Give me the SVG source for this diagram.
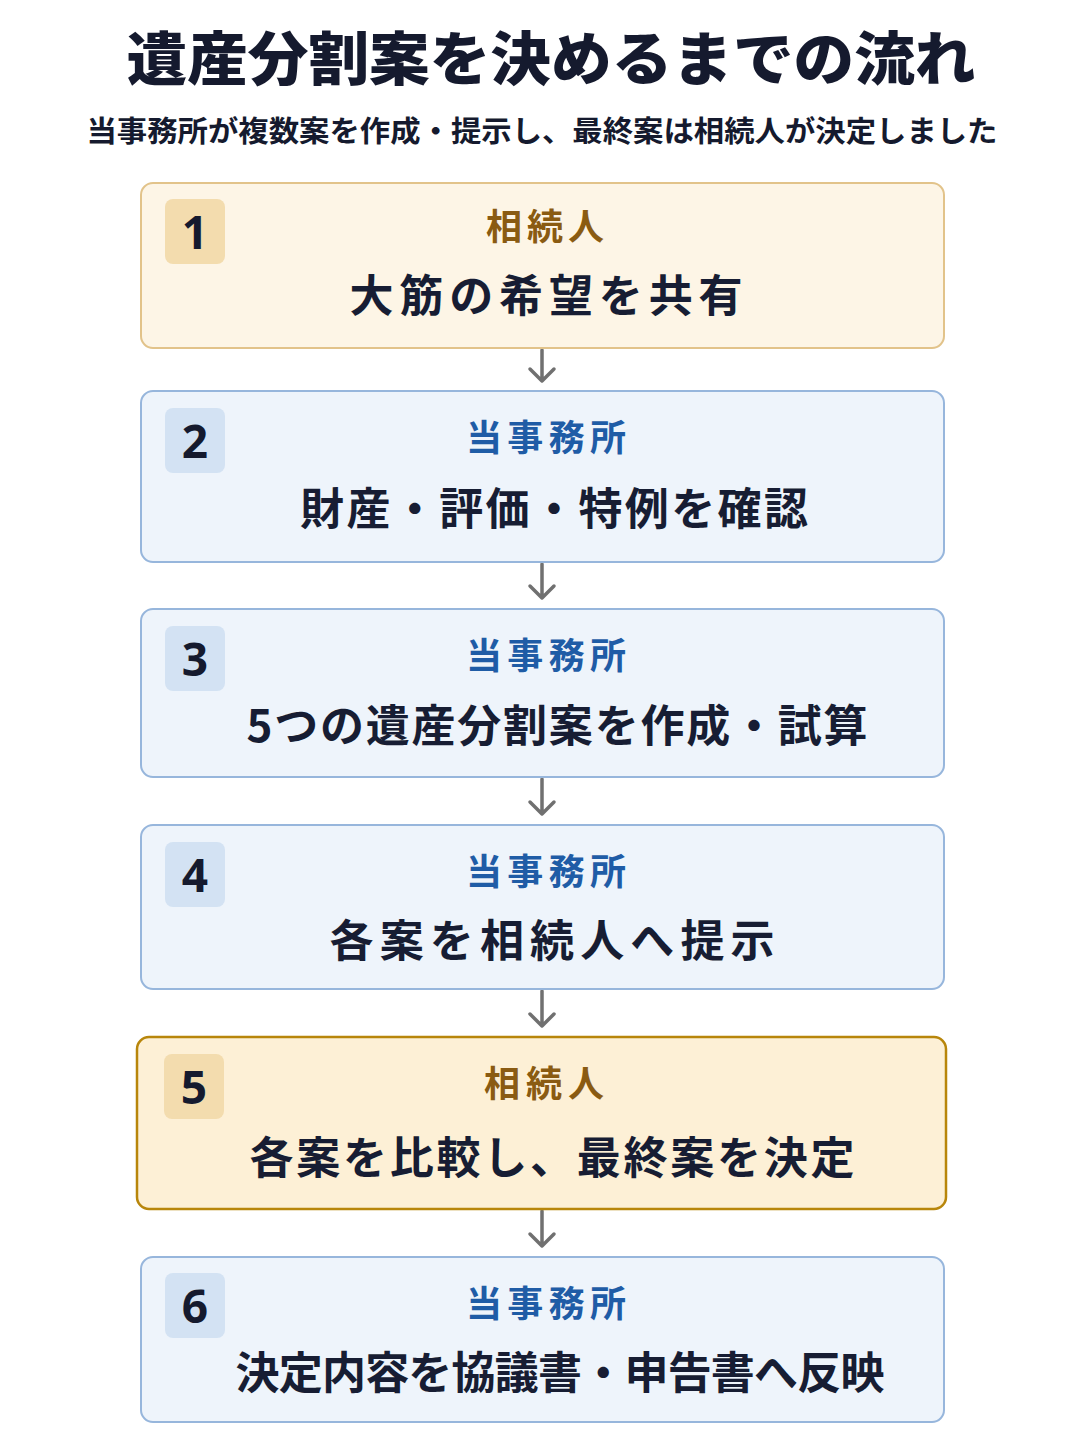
<svg xmlns="http://www.w3.org/2000/svg" width="1086" height="1448" viewBox="0 0 1086 1448">
<defs>
<style>
text{font-family:"Noto Sans CJK JP","Noto Sans",sans-serif;text-anchor:middle;}
.title{font-size:58px;font-weight:900;fill:#151a2e;}
.sub{font-size:29px;font-weight:700;fill:#151a2e;}
.gold{fill:#fdf5e6;stroke:#e2c38a;stroke-width:2;}
.gold5{fill:#fdf0d6;stroke:#b8860b;stroke-width:2.5;}
.blue{fill:#eef4fb;stroke:#97b6dc;stroke-width:2;}
.bg{fill:#f3dcae;}
.bb{fill:#d3e2f3;}
.num{font-family:"Noto Sans","Liberation Sans",sans-serif;font-size:46px;font-weight:700;fill:#151a2e;}
.lg{font-size:36px;font-weight:700;fill:#8a5b12;}
.lb{font-size:36px;font-weight:700;fill:#1f5ca6;}
.main{font-size:44px;font-weight:700;fill:#171d33;}
.arr{stroke:#707070;stroke-width:3.5;fill:none;stroke-linecap:round;stroke-linejoin:round;}
</style>
</defs>
<rect width="1086" height="1448" fill="#ffffff"/>
<text class="title" x="551" y="80" textLength="849" lengthAdjust="spacingAndGlyphs">遺産分割案を決めるまでの流れ</text>
<text class="sub" x="542" y="142" textLength="911" lengthAdjust="spacingAndGlyphs">当事務所が複数案を作成・提示し、最終案は相続人が決定しました</text>

<g id="connectors">
<path class="arr" d="M542 350V381M530 369L542 381L554 369"/>
<path class="arr" d="M542 564V598M530 586L542 598L554 586"/>
<path class="arr" d="M542 779V814M530 802L542 814L554 802"/>
<path class="arr" d="M542 991V1026M530 1014L542 1026L554 1014"/>
<path class="arr" d="M542 1211V1246M530 1234L542 1246L554 1234"/>
</g>

<g id="step1">
<rect class="gold" x="141" y="183" width="803" height="165" rx="12"/>
<rect class="bg" x="165" y="199" width="60" height="65" rx="8"/>
<text class="num" x="195" y="249">1</text>
<text class="lg" x="545" y="240" textLength="118" lengthAdjust="spacing">相続人</text>
<text class="main" x="546" y="312" textLength="393" lengthAdjust="spacing">大筋の希望を共有</text>
</g>

<g id="step2">
<rect class="blue" x="141" y="391" width="803" height="171" rx="12"/>
<rect class="bb" x="165" y="408" width="60" height="65" rx="8"/>
<text class="num" x="195" y="458">2</text>
<text class="lb" x="546" y="451" textLength="160" lengthAdjust="spacing">当事務所</text>
<text class="main" x="554" y="525" textLength="508" lengthAdjust="spacing">財産・評価・特例を確認</text>
</g>

<g id="step3">
<rect class="blue" x="141" y="609" width="803" height="168" rx="12"/>
<rect class="bb" x="165" y="626" width="60" height="65" rx="8"/>
<text class="num" x="195" y="676">3</text>
<text class="lb" x="546" y="669" textLength="160" lengthAdjust="spacing">当事務所</text>
<text class="main" x="557" y="742" textLength="621" lengthAdjust="spacing">5つの遺産分割案を作成・試算</text>
</g>

<g id="step4">
<rect class="blue" x="141" y="825" width="803" height="164" rx="12"/>
<rect class="bb" x="165" y="842" width="60" height="65" rx="8"/>
<text class="num" x="195" y="892">4</text>
<text class="lb" x="546" y="885" textLength="160" lengthAdjust="spacing">当事務所</text>
<text class="main" x="552" y="957" textLength="445" lengthAdjust="spacing">各案を相続人へ提示</text>
</g>

<g id="step5">
<rect class="gold5" x="137" y="1037" width="809" height="172" rx="12"/>
<rect class="bg" x="164" y="1054" width="60" height="65" rx="8"/>
<text class="num" x="194" y="1104">5</text>
<text class="lg" x="544" y="1097" textLength="120" lengthAdjust="spacing">相続人</text>
<text class="main" x="552" y="1174" textLength="605" lengthAdjust="spacing">各案を比較し、最終案を決定</text>
</g>

<g id="step6">
<rect class="blue" x="141" y="1257" width="803" height="165" rx="12"/>
<rect class="bb" x="165" y="1273" width="60" height="65" rx="8"/>
<text class="num" x="195" y="1323">6</text>
<text class="lb" x="546" y="1317" textLength="160" lengthAdjust="spacing">当事務所</text>
<text class="main" x="560" y="1389" textLength="649" lengthAdjust="spacing">決定内容を協議書・申告書へ反映</text>
</g>
</svg>
